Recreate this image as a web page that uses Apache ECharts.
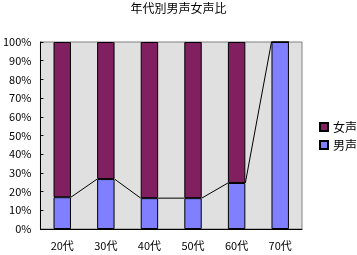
<!DOCTYPE html>
<html>
<head>
<meta charset="utf-8">
<script src="https://cdn.jsdelivr.net/npm/echarts@6/dist/echarts.min.js"></script>
<style>html,body{margin:0;padding:0;background:#fff}#c{width:357px;height:255px}</style>
</head>
<body>
<div id="c"></div>
<script>
const title = '年代別男声女声比';
const categories = ['20代', '30代', '40代', '50代', '60代', '70代'];
const male = [17, 26.7, 16.5, 16.5, 24.6, 100];
const female = [83, 73.3, 83.5, 83.5, 75.4, 0];
const yTicks = [0, 10, 20, 30, 40, 50, 60, 70, 80, 90, 100];

const font = "'Noto Sans CJK JP', sans-serif";
const barRatio = 0.4;
const chart = echarts.init(document.getElementById('c'), null, {renderer: 'canvas'});
const lineData = male.slice(0, -1).map((v, i) => [i, v, male[i + 1]]);

chart.setOption({
  animation: false,
  backgroundColor: '#ffffff',
  title: {
    text: title, left: 'center', top: 2, padding: 0,
    textStyle: {fontFamily: font, fontSize: 12, fontWeight: 'normal', color: '#000'}
  },
  legend: {
    data: ['女声', '男声'], orient: 'vertical', left: 314, top: 116,
    icon: 'rect', itemWidth: 8, itemHeight: 8, itemGap: 6,
    textStyle: {fontFamily: font, fontSize: 12, color: '#000', lineHeight: 12}
  },
  grid: {
    left: 38, right: 55, top: 42, bottom: 26, show: true,
    backgroundColor: '#e0e0e0', borderColor: '#808080', borderWidth: 1
  },
  xAxis: {
    type: 'category', data: categories,
    axisLine: {lineStyle: {color: '#000', width: 1}},
    axisTick: {inside: true, length: 3, lineStyle: {color: '#000'}},
    axisLabel: {fontFamily: font, fontSize: 11, color: '#000', margin: 11},
    splitLine: {show: false}
  },
  yAxis: {
    type: 'value', min: 0, max: 100, interval: 10,
    axisLine: {show: true, lineStyle: {color: '#000', width: 1}},
    axisTick: {show: true, inside: true, length: 3, lineStyle: {color: '#000'}},
    axisLabel: {fontFamily: font, fontSize: 11, color: '#000', margin: 9,
      formatter: v => yTicks.includes(v) ? v + '%' : ''},
    splitLine: {show: false}
  },
  series: [
    {name: '男声', type: 'bar', stack: 's', data: male, barWidth: (barRatio * 100) + '%',
      itemStyle: {color: '#8080ff', borderColor: '#000', borderWidth: 1}},
    {name: '女声', type: 'bar', stack: 's', data: female, barWidth: (barRatio * 100) + '%',
      itemStyle: {color: '#802060', borderColor: '#000', borderWidth: 1}},
    {name: 'series-lines', type: 'custom', data: lineData, z: 5,
      encode: {x: 0, y: 1},
      renderItem: function (params, api) {
        const i = api.value(0);
        const p1 = api.coord([i, api.value(1)]);
        const p2 = api.coord([i + 1, api.value(2)]);
        const hw = api.size([1, 0])[0] * barRatio / 2;
        return {type: 'line', shape: {x1: p1[0] + hw, y1: p1[1], x2: p2[0] - hw, y2: p2[1]},
          style: {stroke: '#000', lineWidth: 1}};
      }}
  ]
});
</script>
</body>
</html>
